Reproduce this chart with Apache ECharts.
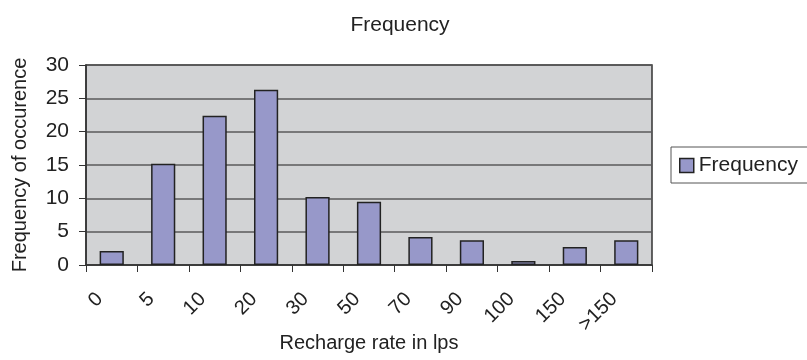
<!DOCTYPE html>
<html>
<head>
<meta charset="utf-8">
<script src="https://cdn.jsdelivr.net/npm/echarts@6/dist/echarts.min.js"></script>
<style>html,body{margin:0;padding:0;background:#fff;}#c{width:807px;height:360px;}</style>
</head>
<body>
<div id="c"></div>
<script>
const categories = ['0', '5', '10', '20', '30', '50', '70', '90', '100', '150', '>150'];
const frequency = [2.1, 15.2, 22.4, 26.3, 10.2, 9.5, 4.2, 3.7, 0.6, 2.7, 3.7];
const yTicks = [0, 5, 10, 15, 20, 25, 30];

const font = 'Liberation Sans, Arial, sans-serif';
const chart = echarts.init(document.getElementById('c'), null, { renderer: 'canvas' });
chart.setOption({
  backgroundColor: '#ffffff',
  animation: false,
  title: {
    text: 'Frequency',
    left: 395, top: 10, textAlign: 'center',
    textStyle: { fontFamily: font, fontSize: 21, fontWeight: 'normal', color: '#222' }
  },
  legend: {
    data: ['Frequency'],
    left: 671, top: 147,
    orient: 'vertical',
    padding: [8, 12, 7, 8],
    borderColor: '#555', borderWidth: 1,
    itemWidth: 14, itemHeight: 14, itemGap: 5,
    icon: 'rect',
    itemStyle: { borderColor: '#222', borderWidth: 1.5 },
    textStyle: { fontFamily: font, fontSize: 21, color: '#222', padding: [0, 0, 0, 0] }
  },
  grid: {
    left: 86, right: 155, top: 65, bottom: 95,
    outerBoundsMode: 'none', containLabel: false,
    show: true, backgroundColor: '#d2d3d5', borderColor: '#333', borderWidth: 1.5
  },
  xAxis: {
    type: 'category',
    data: categories,
    boundaryGap: true,
    name: 'Recharge rate in lps',
    nameLocation: 'middle', nameGap: 68, nameMoveOverlap: false,
    nameTextStyle: { fontFamily: font, fontSize: 20, color: '#222' },
    axisLine: { lineStyle: { color: '#333', width: 1.5 } },
    axisTick: { show: true, length: 7, inside: false, lineStyle: { color: '#333' }, alignWithLabel: false },
    axisLabel: { rotate: 45, margin: 19, fontFamily: font, fontSize: 20, color: '#222', interval: 0,
      padding: [0, 17, 0, 0] }
  },
  yAxis: {
    type: 'value',
    min: 0, max: 30, interval: 5,
    name: 'Frequency of occurence',
    nameLocation: 'middle', nameGap: 56, nameMoveOverlap: false,
    nameTextStyle: { fontFamily: font, fontSize: 20, color: '#222' },
    axisLine: { show: true, lineStyle: { color: '#333', width: 1.5 } },
    axisTick: { show: true, length: 7, lineStyle: { color: '#333' } },
    axisLabel: { margin: 17, fontFamily: font, fontSize: 21, color: '#222',
      formatter: v => yTicks.includes(v) ? String(v) : '' },
    splitLine: { show: true, lineStyle: { color: '#5a5a5a', width: 1.5 } }
  },
  series: [{
    name: 'Frequency',
    type: 'bar',
    data: frequency,
    barWidth: '47%',
    itemStyle: { color: '#9798c9', borderColor: '#222', borderWidth: 1.5 }
  }]
});
</script>
</body>
</html>
